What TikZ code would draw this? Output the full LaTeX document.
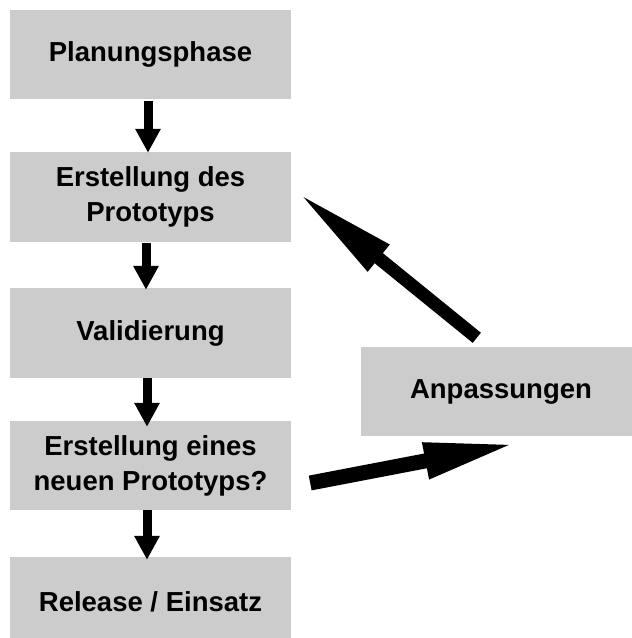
\documentclass[tikz,border=0pt]{standalone}
\usepackage{fontspec}
\setmainfont{Liberation Sans}
\usetikzlibrary{arrows.meta,calc}
\definecolor{boxgray}{RGB}{204,204,204}
\tikzset{
  stage/.style={fill=boxgray, draw=none, minimum width=281pt, minimum height=89pt,
    inner sep=0pt, align=center, font=\fontsize{27.5pt}{35pt}\selectfont\bfseries},
  downarrow/.style={line width=9pt, -{Triangle[width=24pt,length=24pt]}},
}
\begin{document}
\begin{tikzpicture}[x=1pt,y=1pt]
\useasboundingbox (0,0) rectangle (632,638);
\clip (0,0) rectangle (632,638);
\node[stage] (plan) at (150.5,583.5) {Planungsphase};
\node[stage, minimum height=90pt] (proto) at (150.5,441) {Erstellung des\\Prototyps};
\node[stage, minimum height=90pt] (valid) at (150.5,305) {Validierung};
\node[stage] (neu) at (150.5,172.5) {Erstellung eines\\neuen Prototyps?};
\node[stage] (rel) at (150.5,36.5) {Release / Einsatz};
\node[stage, minimum width=280pt] (anp) at (501,246.5) {Anpassungen};

\draw[downarrow] ($(plan.south)+(-2.5,-2)$) -- ($(proto.north)+(-2.5,-1)$);
\draw[downarrow] ($(proto.south)+(-4.5,-1)$) -- ($(valid.north)+(-4.5,-2)$);
\draw[downarrow] ($(valid.south)+(-3.5,0)$) -- ($(neu.north)+(-3.5,-6)$);
\draw[downarrow] ($(neu.south)+(-3.5,0)$) -- ($(rel.north)+(-3.5,-3)$);

\draw[line width=13pt, -{Triangle[width=31pt,length=105pt]}]
  ($(anp.north west)+(116,9)$) -- ($(proto.east)+(6,5)$);
\draw[line width=15pt, -{Triangle[width=33pt,length=94pt]}]
  ($(neu.east)+(19,-17.5)$) -- ($(anp.south west)+(157,-7)$);
\end{tikzpicture}
\end{document}
